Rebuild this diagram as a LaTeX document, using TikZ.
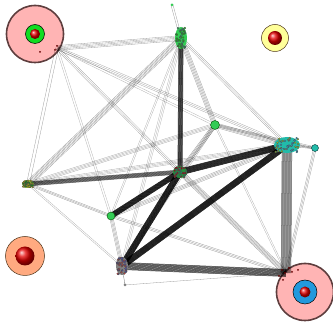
\documentclass[tikz,border=0pt]{standalone}
\usetikzlibrary{calc}
\definecolor{ringbrown}{HTML}{5E3E3E}
\definecolor{pinkfill}{HTML}{FFB4B4}
\definecolor{yelfill}{HTML}{FFFF99}
\definecolor{salfill}{HTML}{FFAA80}
\definecolor{greenring}{HTML}{11DD22}
\definecolor{bluering}{HTML}{2299DD}
\definecolor{clgreen}{HTML}{33CC55}
\definecolor{clteal}{HTML}{22BBAA}
\definecolor{clolive}{HTML}{99BB33}
\tikzset{
  edge/.style={draw=black,line width=0.3pt},
  bigring/.style={draw=ringbrown,line width=1.6pt,fill=pinkfill},
  smallring/.style={draw=black!60!brown,line width=0.5pt},
  reddot/.style={shading=ball,ball color=red!90!black},
}
% thin bundle: individual lines
\newcommand\bundle[5]{%
  \foreach \k in {1,...,#3}{%
    \pgfmathsetmacro\off{(\k-(#3+1)/2)*#4}%
    \draw[edge,opacity=#5] ($(#1)!\off pt!90:(#2)$) -- ($(#2)!\off pt!-90:(#1)$);
  }}
% heavy bundle: dense lines
\newcommand\heavy[5]{%
  \foreach \k in {1,...,#3}{%
    \pgfmathsetmacro\off{(\k-(#3+1)/2)*#4}%
    \draw[edge,line width=0.5pt,opacity=#5] ($(#1)!\off pt!90:(#2)$) -- ($(#2)!\off pt!-90:(#1)$);
  }}
\newcommand\cluster[6]{% node, rx, ry, base, dot1, dot2
  \fill[#4] (#1) ellipse ({#2pt} and {#3pt});
  \foreach \k in {1,...,22}{%
    \filldraw[fill=#5,draw=black!70,line width=0.25pt] ($(#1)+({rand*(#2-1)},{rand*(#3-1)})$) circle (1pt);
    \filldraw[fill=#6,draw=black!70,line width=0.25pt] ($(#1)+({rand*(#2-1)},{rand*(#3-1)})$) circle (1pt);
  }}
\begin{document}
\begin{tikzpicture}[x=1pt,y=-1pt]
\pgfmathsetseed{7}
\useasboundingbox (0,0) rectangle (333,323);
\fill[white] (0,0) rectangle (333,323);
% big circles (background)
\node[circle,bigring,minimum size=57pt,inner sep=0pt] (TL) at (35,34) {};
\node[circle,bigring,minimum size=57pt,inner sep=0pt] (BR) at (305,292) {};
% cluster positions
\coordinate (A) at (181,38);
\coordinate (T) at (172,5);
\coordinate (B) at (215,125);
\coordinate (C) at (287,145);
\coordinate (D) at (315,148);
\coordinate (E) at (180,172);
\coordinate (F) at (28,184);
\coordinate (G) at (111,216);
\coordinate (H) at (122,266);
\coordinate (I) at (125,285);
\coordinate (J) at (286,273);
\coordinate (K) at (57,48);
% edges
\heavy{A}{E}{12}{0.4}{0.75}
\bundle{A}{F}{6}{1.1}{0.4}
\bundle{A}{K}{5}{1.2}{0.4}
\bundle{A}{B}{5}{1.1}{0.4}
\bundle{A}{C}{3}{1.5}{0.35}
\bundle{A}{T}{2}{2}{0.4}
\bundle{A}{G}{2}{1.5}{0.3}
\bundle{A}{H}{3}{1.5}{0.3}
\bundle{K}{C}{3}{1.5}{0.35}
\bundle{K}{E}{3}{1.5}{0.35}
\bundle{K}{F}{2}{3}{0.4}
\bundle{K}{G}{2}{2}{0.3}
\bundle{K}{B}{2}{2}{0.3}
\bundle{B}{C}{5}{1.1}{0.4}
\bundle{B}{E}{5}{1.0}{0.45}
\bundle{B}{F}{4}{1.2}{0.35}
\bundle{B}{H}{3}{1.3}{0.3}
\bundle{B}{J}{2}{1.5}{0.3}
\bundle{B}{D}{3}{1.1}{0.4}
\heavy{C}{E}{16}{0.4}{0.85}
\bundle{C}{D}{3}{0.9}{0.5}
\heavy{C}{H}{16}{0.4}{0.85}
\heavy{C}{J}{14}{0.75}{0.65}
\bundle{C}{F}{4}{1.2}{0.35}
\bundle{C}{G}{4}{1.2}{0.4}
\heavy{E}{F}{10}{0.45}{0.6}
\heavy{E}{G}{14}{0.4}{0.85}
\heavy{E}{H}{16}{0.4}{0.85}
\bundle{E}{J}{6}{1.0}{0.4}
\bundle{F}{G}{3}{1.1}{0.4}
\bundle{F}{H}{2}{1.5}{0.3}
\bundle{G}{H}{4}{1.1}{0.4}
\bundle{G}{J}{3}{1.3}{0.4}
\heavy{H}{J}{14}{0.55}{0.72}
\bundle{H}{I}{1}{1}{0.6}
\bundle{I}{J}{1}{1}{0.4}
\bundle{D}{J}{3}{1.3}{0.4}
% inner rings of big circles
\node[circle,fill=greenring,draw=black,line width=0.5pt,minimum size=19pt,inner sep=0pt] (TLr) at (TL) {};
\node[circle,reddot,minimum size=10pt,inner sep=0pt] (TLd) at (TL) {};
\node[circle,fill=bluering,draw=black,line width=0.5pt,minimum size=24pt,inner sep=0pt] (BRr) at (BR) {};
\node[circle,reddot,minimum size=11pt,inner sep=0pt] (BRd) at (BR) {};
% other circles
\node[circle,smallring,fill=yelfill,minimum size=27pt,inner sep=0pt] (Y) at (275,38) {};
\node[circle,reddot,minimum size=14pt,inner sep=0pt] (Yd) at (Y) {};
\node[circle,smallring,fill=salfill,minimum size=39pt,inner sep=0pt] (S) at (25,256) {};
\node[circle,reddot,minimum size=19pt,inner sep=0pt] (Sd) at (S) {};
% clusters
\cluster{A}{6}{11}{clgreen}{green!80!black}{clgreen!60!teal}
\cluster{C}{13}{8}{clteal}{cyan!60!teal}{yellow!60!green}
\cluster{E}{7}{6}{clgreen!70!black}{teal!70!green}{red!60!black}
\cluster{F}{6}{4}{clolive}{olive!60!yellow}{green!60!black}
\cluster{H}{6}{9}{gray}{red!50!gray}{blue!40!gray}
\filldraw[fill=clgreen,draw=green!30!black,line width=0.4pt] (B) circle (4.5pt);
\filldraw[fill=clteal,draw=teal!40!black,line width=0.4pt] (D) circle (3.5pt);
\filldraw[fill=clgreen,draw=green!30!black,line width=0.4pt] (G) circle (4pt);
\fill[clgreen] (T) circle (1.5pt);
\fill[gray] (I) circle (1.5pt);
% small dark dots
\foreach \p in {(40,52),(57,46),(55,50),(282,270),(285,273),(289,268),(292,272),(279,276),(298,270),(283,280)}
  \fill[red!40!black] \p circle (1pt);
\end{tikzpicture}
\end{document}
